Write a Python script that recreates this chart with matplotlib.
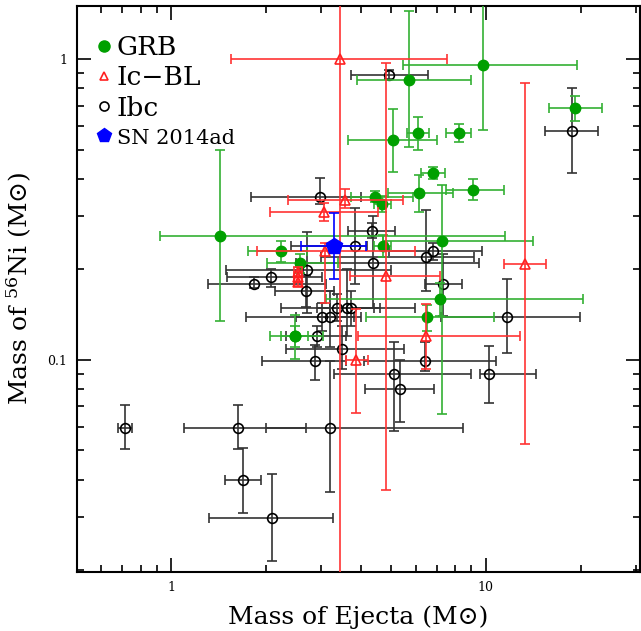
import numpy as np
import matplotlib
matplotlib.use('Agg')
import matplotlib.pyplot as plt
from matplotlib.lines import Line2D
from matplotlib.ticker import LogLocator, NullFormatter

plt.rcParams['font.family'] = ['DejaVu Serif', 'DejaVu Sans']
plt.rcParams['mathtext.fontset'] = 'dejavuserif'

# GRB-SNe: ejecta mass, Ni mass and the ends of their error bars
grb_x = [9.78, 5.71, 19.2, 5.06, 6.09, 8.21, 6.78, 9.13, 6.12, 4.43, 4.69, 2.24,
         2.57, 1.43, 2.47, 2.47, 7.26, 7.14, 6.5, 4.7]
grb_y = [0.955, 0.854, 0.686, 0.537, 0.566, 0.566, 0.417, 0.367, 0.358, 0.349, 0.33,
         0.230, 0.210, 0.259, 0.120, 0.120, 0.249, 0.159, 0.139, 0.239]
grb_xlo = [5.44, 3.90, 15.9, 3.65, 5.61, 7.49, 6.24, 7.49, 4.87, 3.74, 4.4, 1.76,
           2.02, 0.92, 2.06, 2.24, 4.7, 3.1, 4.17, 4.4]
grb_xhi = [19.5, 8.96, 23.4, 6.98, 6.58, 9.0, 7.43, 11.4, 7.86, 5.85, 5.0, 2.7,
           3.4, 11.5, 3.03, 2.72, 14.1, 20.3, 10.6, 5.0]
grb_ylo = [0.58, 0.51, 0.62, 0.422, 0.50, 0.529, 0.398, 0.34, 0.311, 0.335, 0.31,
           0.211, 0.195, 0.135, 0.101, 0.110, 0.066, 0.14, 0.125, 0.22]
grb_yhi = [3.0, 1.44, 0.755, 0.684, 0.64, 0.608, 0.439, 0.40, 0.413, 0.365, 0.35,
           0.249, 0.225, 0.499, 0.141, 0.130, 0.38, 0.18, 0.152, 0.26]

# Ic-BL
icbl_x = [3.43, 3.57, 3.07, 3.09, 4.83, 2.53, 2.53, 2.53, 3.87, 6.47, 13.3]
icbl_y = [1.0, 0.340, 0.311, 0.230, 0.19, 0.196, 0.188, 0.182, 0.1, 0.12, 0.209]
icbl_xlo = [1.55, 2.35, 2.06, 1.87, 3.69, 2.45, 2.45, 2.45, 3.6, 3.92, 11.4]
icbl_xhi = [7.52, 5.45, 4.53, 5.95, 7.14, 2.6, 2.6, 2.6, 4.22, 12.8, 15.5]
icbl_ylo = [0.005, 0.32, 0.29, 0.154, 0.037, 0.188, 0.182, 0.176, 0.0667, 0.093, 0.0524]
icbl_yhi = [5.0, 0.37, 0.331, 0.245, 0.97, 0.204, 0.196, 0.19, 0.148, 0.153, 0.83]

# Ibc
ibc_x = [4.91, 18.8, 2.98, 4.35, 3.85, 4.37, 6.79, 6.47, 7.3, 6.39, 5.12, 5.32,
         10.2, 11.7, 0.714, 1.63, 3.19, 1.69, 2.09, 2.70, 2.07, 1.83, 2.69, 3.37,
         3.63, 3.73, 3.02, 3.19, 2.91, 3.48, 2.86]
ibc_y = [0.885, 0.576, 0.349, 0.269, 0.239, 0.21, 0.23, 0.219, 0.179, 0.0994, 0.0897,
         0.0800, 0.0897, 0.139, 0.0595, 0.0595, 0.0595, 0.0399, 0.0298, 0.199, 0.189,
         0.179, 0.170, 0.149, 0.149, 0.149, 0.139, 0.139, 0.120, 0.109, 0.0994]
ibc_xlo = [3.74, 15.4, 1.79, 3.64, 2.4, 2.5, 4.94, 3.0, 6.4, 4.1, 3.3, 4.14,
           9.6, 7.2, 0.68, 1.1, 2.0, 1.48, 1.32, 1.49, 1.50, 1.31, 2.13, 2.24,
           2.9, 3.2, 1.73, 2.5, 2.32, 2.32, 1.95]
ibc_xhi = [6.55, 22.7, 4.0, 5.13, 4.2, 9.5, 9.69, 9.2, 8.38, 10.8, 8.97, 6.84,
           14.4, 19.9, 0.753, 2.69, 8.46, 1.93, 3.28, 5.0, 3.02, 3.1, 3.3, 5.95,
           4.4, 4.6, 3.8, 4.0, 3.6, 5.5, 3.6]
ibc_ylo = [0.86, 0.417, 0.33, 0.255, 0.179, 0.149, 0.215, 0.17, 0.14, 0.092, 0.058,
           0.062, 0.072, 0.105, 0.0506, 0.0506, 0.0364, 0.031, 0.0214, 0.143, 0.175,
           0.173, 0.15, 0.135, 0.12, 0.13, 0.125, 0.11, 0.11, 0.0935, 0.086]
ibc_yhi = [0.92, 0.799, 0.402, 0.285, 0.319, 0.30, 0.245, 0.314, 0.225, 0.115, 0.115,
           0.10, 0.111, 0.185, 0.0706, 0.0706, 0.099, 0.0508, 0.0418, 0.267, 0.20,
           0.189, 0.19, 0.165, 0.20, 0.17, 0.155, 0.17, 0.13, 0.13, 0.112]

# SN 2014ad
sn_x = [3.3]
sn_y = [0.239]
sn_xlo = [2.59]
sn_xhi = [4.17]
sn_ylo = [0.186]
sn_yhi = [0.307]


def draw(ax, x, y, xlo, xhi, ylo, yhi, **kw):
    x, y = np.array(x), np.array(y)
    xerr = [x - np.array(xlo), np.array(xhi) - x]
    yerr = [y - np.array(ylo), np.array(yhi) - y]
    ax.errorbar(x, y, xerr=xerr, yerr=yerr, ls='none', capsize=3.5,
                elinewidth=1.2, capthick=1.2, **kw)


fig = plt.figure(figsize=(6.41, 6.31), dpi=100)
ax = fig.add_axes([77 / 641, 1 - 571.5 / 631, 563 / 641, 565.5 / 631])
ax.set_xscale('log')
ax.set_yscale('log')

draw(ax, ibc_x, ibc_y, ibc_xlo, ibc_xhi, ibc_ylo, ibc_yhi, marker='o', ms=7,
     mfc='none', mec='black', mew=1.2, color='#333333', zorder=2)
draw(ax, grb_x, grb_y, grb_xlo, grb_xhi, grb_ylo, grb_yhi, marker='o', ms=7.5,
     mfc='#00a000', mec='#00a000', color='#33b033', zorder=3)
draw(ax, icbl_x, icbl_y, icbl_xlo, icbl_xhi, icbl_ylo, icbl_yhi, marker='^', ms=7,
     mfc='none', mec='#ff2020', mew=1.2, color='#ff3333', zorder=4)
draw(ax, sn_x, sn_y, sn_xlo, sn_xhi, sn_ylo, sn_yhi, marker='p', ms=12,
     mfc='blue', mec='blue', color='blue', zorder=5)

ax.set_xlim(0.502, 30.9)
ax.set_ylim(0.0198, 1.50)

ax.set_xticks([1, 10])
ax.set_xticklabels(['1', '10'])
ax.set_yticks([0.1, 1])
ax.set_yticklabels(['0.1', '1'])
ax.xaxis.set_minor_locator(LogLocator(base=10, subs=np.arange(2, 10)))
ax.yaxis.set_minor_locator(LogLocator(base=10, subs=np.arange(2, 10)))
ax.xaxis.set_minor_formatter(NullFormatter())
ax.yaxis.set_minor_formatter(NullFormatter())
ax.tick_params(which='both', direction='in', top=True, right=True, width=1.2,
               labelsize=9)
ax.tick_params(which='major', length=10, pad=7)
ax.tick_params(which='minor', length=5)
for s in ax.spines.values():
    s.set_linewidth(1.5)

ax.set_xlabel('Mass of Ejecta (M\u2299)', fontsize=18, labelpad=8)
ax.set_ylabel('Mass of $^{56}$Ni (M\u2299)', fontsize=18, labelpad=10)

handles = [
    Line2D([], [], ls='none', marker='o', ms=8, mfc='#00a000', mec='#00a000'),
    Line2D([], [], ls='none', marker='^', ms=6, mfc='none', mec='#ff2020', mew=1.2),
    Line2D([], [], ls='none', marker='o', ms=6.5, mfc='none', mec='black', mew=1.2),
    Line2D([], [], ls='none', marker='p', ms=10, mfc='blue', mec='blue'),
]
leg = ax.legend(handles, ['GRB', 'Ic\u2212BL', 'Ibc', 'SN 2014ad'], loc='upper left',
                bbox_to_anchor=(-0.004, 0.986), frameon=False, fontsize=19,
                handlelength=0.6, handletextpad=0.2, labelspacing=0.2,
                borderaxespad=0.4)
leg.get_texts()[3].set_fontsize(15)

fig.savefig('out.png', dpi=100)
